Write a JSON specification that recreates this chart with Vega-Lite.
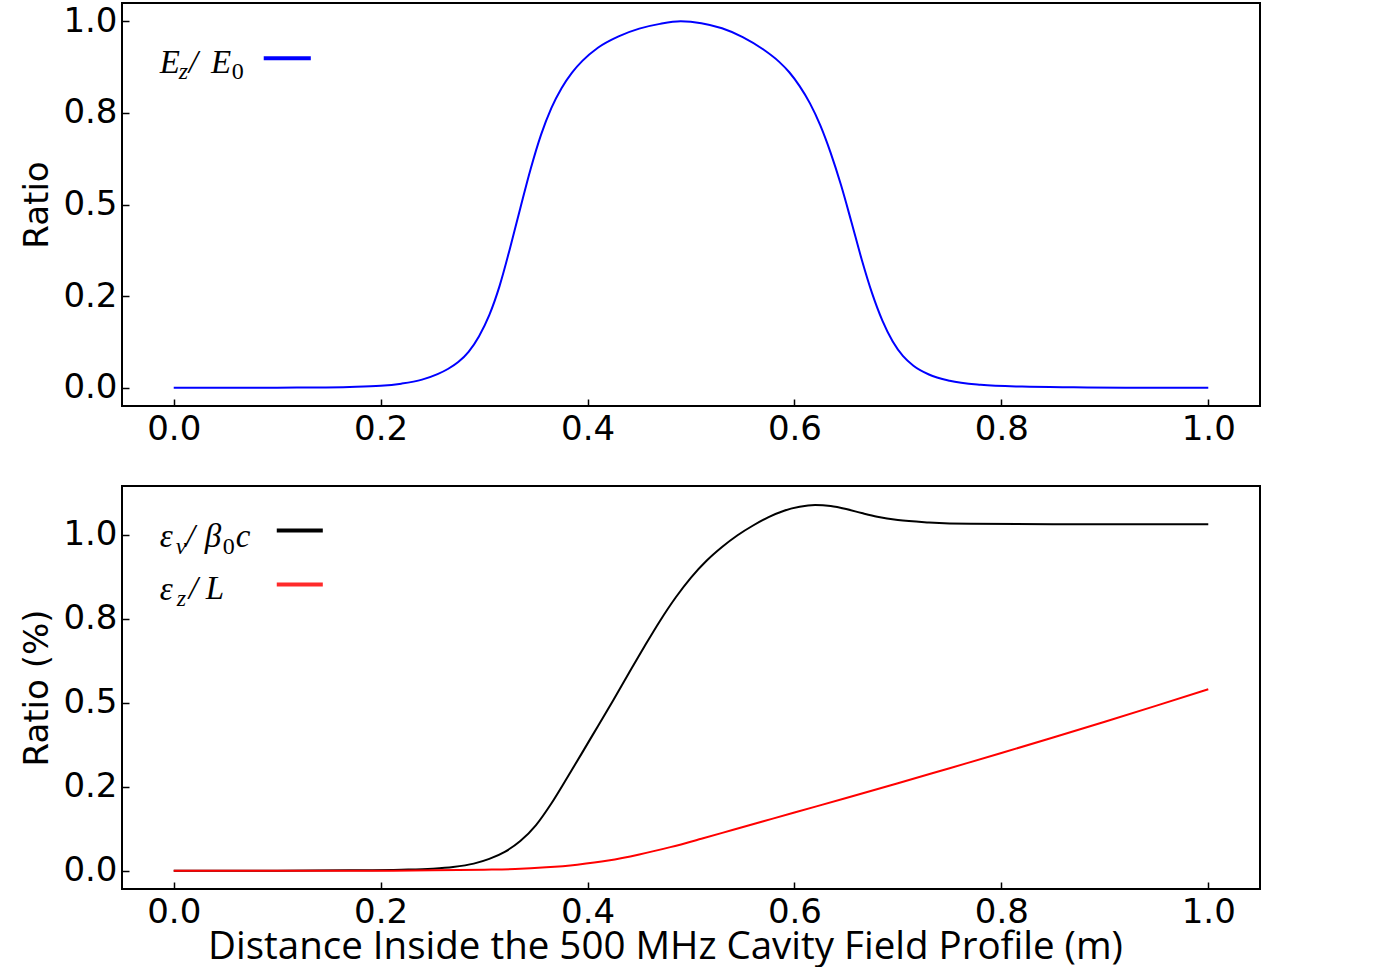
{
  "$schema": "https://vega.github.io/schema/vega-lite/v6.json",
  "background": "white",
  "padding": {"left": 19, "top": 2, "right": 5, "bottom": 0},
  "spacing": 38,
  "datasets": {
    "field": [
      {"x": 0, "ratio": 0}, {"x": 0.1, "ratio": 0}, {"x": 0.13, "ratio": 0.0005}, {"x": 0.17, "ratio": 0.002},
      {"x": 0.2, "ratio": 0.005}, {"x": 0.22, "ratio": 0.011}, {"x": 0.24, "ratio": 0.022}, {"x": 0.255, "ratio": 0.037},
      {"x": 0.265, "ratio": 0.051}, {"x": 0.275, "ratio": 0.07}, {"x": 0.285, "ratio": 0.098}, {"x": 0.295, "ratio": 0.14},
      {"x": 0.305, "ratio": 0.198}, {"x": 0.315, "ratio": 0.278}, {"x": 0.325, "ratio": 0.38}, {"x": 0.335, "ratio": 0.49},
      {"x": 0.345, "ratio": 0.597}, {"x": 0.355, "ratio": 0.69}, {"x": 0.365, "ratio": 0.763}, {"x": 0.375, "ratio": 0.818},
      {"x": 0.385, "ratio": 0.86}, {"x": 0.395, "ratio": 0.892}, {"x": 0.41, "ratio": 0.928}, {"x": 0.43, "ratio": 0.959},
      {"x": 0.45, "ratio": 0.98}, {"x": 0.47, "ratio": 0.993}, {"x": 0.49, "ratio": 1.0}, {"x": 0.51, "ratio": 0.995},
      {"x": 0.53, "ratio": 0.981}, {"x": 0.55, "ratio": 0.957}, {"x": 0.57, "ratio": 0.923}, {"x": 0.585, "ratio": 0.89},
      {"x": 0.595, "ratio": 0.861}, {"x": 0.605, "ratio": 0.823}, {"x": 0.615, "ratio": 0.776}, {"x": 0.625, "ratio": 0.716},
      {"x": 0.635, "ratio": 0.641}, {"x": 0.645, "ratio": 0.553}, {"x": 0.655, "ratio": 0.453}, {"x": 0.665, "ratio": 0.35},
      {"x": 0.675, "ratio": 0.258}, {"x": 0.685, "ratio": 0.183}, {"x": 0.695, "ratio": 0.126}, {"x": 0.705, "ratio": 0.086},
      {"x": 0.715, "ratio": 0.06}, {"x": 0.73, "ratio": 0.036}, {"x": 0.75, "ratio": 0.019}, {"x": 0.78, "ratio": 0.008},
      {"x": 0.82, "ratio": 0.003}, {"x": 0.87, "ratio": 0.001}, {"x": 0.92, "ratio": 0}, {"x": 1.0, "ratio": 0}
    ],
    "beam": [
      {"x": 0, "ratio": 0, "series": "ev"}, {"x": 0.1, "ratio": 0, "series": "ev"}, {"x": 0.17, "ratio": 0.001, "series": "ev"},
      {"x": 0.22, "ratio": 0.003, "series": "ev"}, {"x": 0.25, "ratio": 0.006, "series": "ev"}, {"x": 0.27, "ratio": 0.011, "series": "ev"},
      {"x": 0.29, "ratio": 0.021, "series": "ev"}, {"x": 0.305, "ratio": 0.035, "series": "ev"}, {"x": 0.32, "ratio": 0.056, "series": "ev"},
      {"x": 0.335, "ratio": 0.088, "series": "ev"}, {"x": 0.35, "ratio": 0.135, "series": "ev"}, {"x": 0.365, "ratio": 0.2, "series": "ev"},
      {"x": 0.38, "ratio": 0.275, "series": "ev"}, {"x": 0.395, "ratio": 0.352, "series": "ev"}, {"x": 0.41, "ratio": 0.43, "series": "ev"},
      {"x": 0.425, "ratio": 0.508, "series": "ev"}, {"x": 0.44, "ratio": 0.588, "series": "ev"}, {"x": 0.455, "ratio": 0.667, "series": "ev"},
      {"x": 0.47, "ratio": 0.743, "series": "ev"}, {"x": 0.485, "ratio": 0.812, "series": "ev"}, {"x": 0.5, "ratio": 0.872, "series": "ev"},
      {"x": 0.515, "ratio": 0.922, "series": "ev"}, {"x": 0.53, "ratio": 0.963, "series": "ev"}, {"x": 0.545, "ratio": 0.998, "series": "ev"},
      {"x": 0.56, "ratio": 1.027, "series": "ev"}, {"x": 0.575, "ratio": 1.052, "series": "ev"}, {"x": 0.59, "ratio": 1.071, "series": "ev"},
      {"x": 0.605, "ratio": 1.083, "series": "ev"}, {"x": 0.62, "ratio": 1.088, "series": "ev"}, {"x": 0.635, "ratio": 1.085, "series": "ev"},
      {"x": 0.65, "ratio": 1.076, "series": "ev"}, {"x": 0.665, "ratio": 1.064, "series": "ev"}, {"x": 0.68, "ratio": 1.053, "series": "ev"},
      {"x": 0.7, "ratio": 1.043, "series": "ev"}, {"x": 0.73, "ratio": 1.036, "series": "ev"}, {"x": 0.77, "ratio": 1.032, "series": "ev"},
      {"x": 0.85, "ratio": 1.031, "series": "ev"}, {"x": 1.0, "ratio": 1.031, "series": "ev"},
      {"x": 0, "ratio": 0, "series": "ez"}, {"x": 0.1, "ratio": 0, "series": "ez"}, {"x": 0.2, "ratio": 0, "series": "ez"},
      {"x": 0.25, "ratio": 0.001, "series": "ez"}, {"x": 0.3, "ratio": 0.003, "series": "ez"}, {"x": 0.33, "ratio": 0.005, "series": "ez"},
      {"x": 0.36, "ratio": 0.01, "series": "ez"}, {"x": 0.39, "ratio": 0.018, "series": "ez"}, {"x": 0.42, "ratio": 0.03, "series": "ez"},
      {"x": 0.45, "ratio": 0.048, "series": "ez"}, {"x": 0.48, "ratio": 0.07, "series": "ez"}, {"x": 0.51, "ratio": 0.095, "series": "ez"},
      {"x": 0.54, "ratio": 0.121, "series": "ez"}, {"x": 0.57, "ratio": 0.147, "series": "ez"}, {"x": 0.6, "ratio": 0.173, "series": "ez"},
      {"x": 0.65, "ratio": 0.216, "series": "ez"}, {"x": 0.7, "ratio": 0.26, "series": "ez"}, {"x": 0.75, "ratio": 0.305, "series": "ez"},
      {"x": 0.8, "ratio": 0.35, "series": "ez"}, {"x": 0.85, "ratio": 0.396, "series": "ez"}, {"x": 0.9, "ratio": 0.443, "series": "ez"},
      {"x": 0.95, "ratio": 0.491, "series": "ez"}, {"x": 1.0, "ratio": 0.54, "series": "ez"}
    ]
  },
  "config": {
    "view": {"stroke": "black", "strokeWidth": 2},
    "axis": {
      "grid": false, "domain": false,
      "tickColor": "black", "tickSize": -7, "tickWidth": 1.5,
      "labelFont": "DejaVu Sans", "labelFontSize": 34, "labelColor": "black",
      "titleFont": "DejaVu Sans", "titleFontSize": 34, "titleFontWeight": "normal", "titleColor": "black"
    },
    "axisX": {"labelPadding": 13},
    "axisY": {"labelPadding": 12, "titlePadding": 8},
    "text": {"align": "left", "baseline": "alphabetic", "font": "Liberation Serif", "color": "black"}
  },
  "vconcat": [
    {
      "width": 1138,
      "height": 403,
      "layer": [
        {
          "data": {"name": "field"},
          "mark": {"type": "line", "color": "#0000ff", "strokeWidth": 2, "interpolate": "monotone"},
          "encoding": {
            "x": {"field": "x", "type": "quantitative", "scale": {"domain": [-0.05, 1.05], "nice": false, "zero": false},
                  "axis": {"values": [0, 0.2, 0.4, 0.6, 0.8, 1], "format": ".1f", "title": null}},
            "y": {"field": "ratio", "type": "quantitative", "scale": {"domain": [-0.05, 1.05], "nice": false, "zero": false},
                  "axis": {"values": [0, 0.25, 0.5, 0.75, 1], "title": "Ratio",
                           "labelExpr": "datum.value == 0.25 ? '0.2' : datum.value == 0.75 ? '0.8' : format(datum.value, '.1f')"}}
          }
        },
        {
          "data": {"values": [{}]},
          "mark": {"type": "rule", "color": "#0000ff", "strokeWidth": 4},
          "encoding": {"x": {"datum": 0.087, "type": "quantitative"}, "x2": {"datum": 0.1325}, "y": {"datum": 0.899, "type": "quantitative"}}
        },
        {
          "data": {"values": [{}]},
          "mark": {"type": "text", "fontStyle": "italic", "fontSize": 33},
          "encoding": {"x": {"datum": -0.0135, "type": "quantitative"}, "y": {"datum": 0.858, "type": "quantitative"}, "text": {"value": "E"}}
        },
        {
          "data": {"values": [{}]},
          "mark": {"type": "text", "fontStyle": "italic", "fontSize": 24},
          "encoding": {"x": {"datum": 0.0048, "type": "quantitative"}, "y": {"datum": 0.842, "type": "quantitative"}, "text": {"value": "z"}}
        },
        {
          "data": {"values": [{}]},
          "mark": {"type": "text", "fontStyle": "italic", "fontSize": 33},
          "encoding": {"x": {"datum": 0.0145, "type": "quantitative"}, "y": {"datum": 0.858, "type": "quantitative"}, "text": {"value": "/"}}
        },
        {
          "data": {"values": [{}]},
          "mark": {"type": "text", "fontStyle": "italic", "fontSize": 33},
          "encoding": {"x": {"datum": 0.036, "type": "quantitative"}, "y": {"datum": 0.858, "type": "quantitative"}, "text": {"value": "E"}}
        },
        {
          "data": {"values": [{}]},
          "mark": {"type": "text", "fontSize": 24},
          "encoding": {"x": {"datum": 0.0561, "type": "quantitative"}, "y": {"datum": 0.842, "type": "quantitative"}, "text": {"value": "0"}}
        }
      ]
    },
    {
      "width": 1138,
      "height": 403,
      "layer": [
        {
          "data": {"name": "beam"},
          "mark": {"type": "line", "strokeWidth": 2, "interpolate": "monotone"},
          "encoding": {
            "x": {"field": "x", "type": "quantitative", "scale": {"domain": [-0.05, 1.05], "nice": false, "zero": false},
                  "axis": {"values": [0, 0.2, 0.4, 0.6, 0.8, 1], "format": ".1f",
                           "title": "Distance Inside the 500 MHz Cavity Field Profile (m)",
                           "titleFont": "Open Sans", "titleFontSize": 38.5, "titleBaseline": "alphabetic",
                           "titleX": 543, "titleY": 69}},
            "y": {"field": "ratio", "type": "quantitative", "scale": {"domain": [-0.0545, 1.1445], "nice": false, "zero": false},
                  "axis": {"values": [0, 0.25, 0.5, 0.75, 1], "title": "Ratio (%)",
                           "labelExpr": "datum.value == 0.25 ? '0.2' : datum.value == 0.75 ? '0.8' : format(datum.value, '.1f')"}},
            "color": {"field": "series", "type": "nominal", "scale": {"domain": ["ev", "ez"], "range": ["#000000", "#ff0000"]}, "legend": null}
          }
        },
        {
          "data": {"values": [{}]},
          "mark": {"type": "rule", "color": "#000000", "strokeWidth": 4},
          "encoding": {"x": {"datum": 0.0996, "type": "quantitative"}, "x2": {"datum": 0.1441}, "y": {"datum": 1.0119, "type": "quantitative"}}
        },
        {
          "data": {"values": [{}]},
          "mark": {"type": "rule", "color": "#ff2a2a", "strokeWidth": 4},
          "encoding": {"x": {"datum": 0.0996, "type": "quantitative"}, "x2": {"datum": 0.1441}, "y": {"datum": 0.8516, "type": "quantitative"}}
        },
        {
          "data": {"values": [{}]},
          "mark": {"type": "text", "fontStyle": "italic", "fontSize": 33},
          "encoding": {"x": {"datum": -0.0135, "type": "quantitative"}, "y": {"datum": 0.964, "type": "quantitative"}, "text": {"value": "ε"}}
        },
        {
          "data": {"values": [{}]},
          "mark": {"type": "text", "fontStyle": "italic", "fontSize": 24},
          "encoding": {"x": {"datum": 0.0019, "type": "quantitative"}, "y": {"datum": 0.9436, "type": "quantitative"}, "text": {"value": "ν"}}
        },
        {
          "data": {"values": [{}]},
          "mark": {"type": "text", "fontStyle": "italic", "fontSize": 33},
          "encoding": {"x": {"datum": 0.0116, "type": "quantitative"}, "y": {"datum": 0.964, "type": "quantitative"}, "text": {"value": "/"}}
        },
        {
          "data": {"values": [{}]},
          "mark": {"type": "text", "fontStyle": "italic", "fontSize": 33},
          "encoding": {"x": {"datum": 0.03, "type": "quantitative"}, "y": {"datum": 0.964, "type": "quantitative"}, "text": {"value": "β"}}
        },
        {
          "data": {"values": [{}]},
          "mark": {"type": "text", "fontSize": 24},
          "encoding": {"x": {"datum": 0.0474, "type": "quantitative"}, "y": {"datum": 0.9436, "type": "quantitative"}, "text": {"value": "0"}}
        },
        {
          "data": {"values": [{}]},
          "mark": {"type": "text", "fontStyle": "italic", "fontSize": 33},
          "encoding": {"x": {"datum": 0.06, "type": "quantitative"}, "y": {"datum": 0.964, "type": "quantitative"}, "text": {"value": "c"}}
        },
        {
          "data": {"values": [{}]},
          "mark": {"type": "text", "fontStyle": "italic", "fontSize": 33},
          "encoding": {"x": {"datum": -0.0135, "type": "quantitative"}, "y": {"datum": 0.804, "type": "quantitative"}, "text": {"value": "ε"}}
        },
        {
          "data": {"values": [{}]},
          "mark": {"type": "text", "fontStyle": "italic", "fontSize": 24},
          "encoding": {"x": {"datum": 0.0029, "type": "quantitative"}, "y": {"datum": 0.786, "type": "quantitative"}, "text": {"value": "z"}}
        },
        {
          "data": {"values": [{}]},
          "mark": {"type": "text", "fontStyle": "italic", "fontSize": 33},
          "encoding": {"x": {"datum": 0.0145, "type": "quantitative"}, "y": {"datum": 0.807, "type": "quantitative"}, "text": {"value": "/"}}
        },
        {
          "data": {"values": [{}]},
          "mark": {"type": "text", "fontStyle": "italic", "fontSize": 33},
          "encoding": {"x": {"datum": 0.031, "type": "quantitative"}, "y": {"datum": 0.807, "type": "quantitative"}, "text": {"value": "L"}}
        }
      ]
    }
  ]
}
